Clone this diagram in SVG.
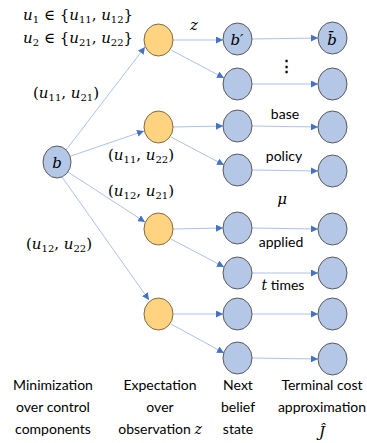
<svg xmlns="http://www.w3.org/2000/svg" width="367" height="443" viewBox="0 0 367 443">
<defs>
<marker id="ah" viewBox="0 0 10 10" refX="10" refY="5" markerWidth="7" markerHeight="7" markerUnits="userSpaceOnUse" orient="auto">
<path d="M0,0 L10,5 L0,10 z" fill="#4472C4"/>
</marker>
<style>
.blue{fill:#B4C7E7;stroke:#595959;stroke-width:1}
.orange{fill:#FFD37F;stroke:#7F6A3F;stroke-width:1}
.edge{stroke:#A3BBE3;stroke-width:0.9;fill:none;marker-end:url(#ah)}
.m{font-family:"DejaVu Serif","Liberation Serif",serif;font-style:italic;font-size:15px;fill:#000}
.mr{font-family:"DejaVu Serif","Liberation Serif",serif;font-size:15px;fill:#000}
.l{font-family:Lato,"Open Sans",sans-serif;font-size:14px;fill:#000;text-anchor:middle}
.s{font-size:10px}
</style>
</defs>
<g id="connectors">
<path class="edge" d="M66,150 L145,47"/>
<path class="edge" d="M71,156 L144,131"/>
<path class="edge" d="M68,172 L145,222"/>
<path class="edge" d="M62,177 L149,300"/>
<path class="edge" d="M173,40 L223,40"/>
<path class="edge" d="M171,50 L224,78"/>
<path class="edge" d="M173,127 L223,126"/>
<path class="edge" d="M171,137 L224,165"/>
<path class="edge" d="M173,229 L223,228"/>
<path class="edge" d="M171,239 L224,267"/>
<path class="edge" d="M173,314 L223,314"/>
<path class="edge" d="M171,324 L224,353"/>
<path class="edge" d="M252,39 L318,38"/>
<path class="edge" d="M252,84 L318,84"/>
<path class="edge" d="M252,126 L318,127"/>
<path class="edge" d="M252,170 L318,171"/>
<path class="edge" d="M252,228 L318,229"/>
<path class="edge" d="M252,273 L318,273"/>
<path class="edge" d="M252,314 L318,314"/>
<path class="edge" d="M252,358 L318,359"/>
</g>
<g id="b"><ellipse class="blue" cx="57" cy="162" rx="14" ry="16"/><text class="m" x="57" y="168" text-anchor="middle" font-size="17">b</text></g>
<g id="o1"><ellipse class="orange" cx="158.5" cy="40" rx="14.5" ry="16"/></g>
<g id="o2"><ellipse class="orange" cx="158.5" cy="127" rx="14.5" ry="16"/></g>
<g id="o3"><ellipse class="orange" cx="158.5" cy="229" rx="14.5" ry="16"/></g>
<g id="o4"><ellipse class="orange" cx="158.5" cy="314" rx="14.5" ry="16"/></g>
<g id="n1"><ellipse class="blue" cx="237.5" cy="39" rx="14.5" ry="16"/><text class="m" x="237" y="45" text-anchor="middle" font-size="17">b′</text></g>
<g id="n2"><ellipse class="blue" cx="237.5" cy="84" rx="14.5" ry="16"/></g>
<g id="n3"><ellipse class="blue" cx="237.5" cy="126" rx="14.5" ry="16"/></g>
<g id="n4"><ellipse class="blue" cx="237.5" cy="170" rx="14.5" ry="16"/></g>
<g id="n5"><ellipse class="blue" cx="237.5" cy="228" rx="14.5" ry="16"/></g>
<g id="n6"><ellipse class="blue" cx="237.5" cy="273" rx="14.5" ry="16"/></g>
<g id="n7"><ellipse class="blue" cx="237.5" cy="314" rx="14.5" ry="16"/></g>
<g id="n8"><ellipse class="blue" cx="237.5" cy="358" rx="14.5" ry="16"/></g>
<g id="t1"><ellipse class="blue" cx="332.5" cy="38" rx="14.5" ry="16"/><text class="m" x="332" y="45" text-anchor="middle" font-size="17">b̄</text></g>
<g id="t2"><ellipse class="blue" cx="332.5" cy="84" rx="14.5" ry="16"/></g>
<g id="t3"><ellipse class="blue" cx="332.5" cy="127" rx="14.5" ry="16"/></g>
<g id="t4"><ellipse class="blue" cx="332.5" cy="171" rx="14.5" ry="16"/></g>
<g id="t5"><ellipse class="blue" cx="332.5" cy="229" rx="14.5" ry="16"/></g>
<g id="t6"><ellipse class="blue" cx="332.5" cy="273" rx="14.5" ry="16"/></g>
<g id="t7"><ellipse class="blue" cx="332.5" cy="314" rx="14.5" ry="16"/></g>
<g id="t8"><ellipse class="blue" cx="332.5" cy="359" rx="14.5" ry="16"/></g>
<g id="labels">
<text class="m" x="23" y="20">u<tspan class="s" dy="3" font-style="normal">1</tspan><tspan dy="-3" font-style="normal"> ∈ {</tspan>u<tspan class="s" dy="3" font-style="normal">11</tspan><tspan dy="-3" font-style="normal">, </tspan>u<tspan class="s" dy="3" font-style="normal">12</tspan><tspan dy="-3" font-style="normal">}</tspan></text>
<text class="m" x="23" y="43">u<tspan class="s" dy="3" font-style="normal">2</tspan><tspan dy="-3" font-style="normal"> ∈ {</tspan>u<tspan class="s" dy="3" font-style="normal">21</tspan><tspan dy="-3" font-style="normal">, </tspan>u<tspan class="s" dy="3" font-style="normal">22</tspan><tspan dy="-3" font-style="normal">}</tspan></text>
<text class="m" x="33" y="98"><tspan font-style="normal">(</tspan>u<tspan class="s" dy="3" font-style="normal">11</tspan><tspan dy="-3" font-style="normal">, </tspan>u<tspan class="s" dy="3" font-style="normal">21</tspan><tspan dy="-3" font-style="normal">)</tspan></text>
<text class="m" x="108" y="160"><tspan font-style="normal">(</tspan>u<tspan class="s" dy="3" font-style="normal">11</tspan><tspan dy="-3" font-style="normal">, </tspan>u<tspan class="s" dy="3" font-style="normal">22</tspan><tspan dy="-3" font-style="normal">)</tspan></text>
<text class="m" x="108" y="196"><tspan font-style="normal">(</tspan>u<tspan class="s" dy="3" font-style="normal">12</tspan><tspan dy="-3" font-style="normal">, </tspan>u<tspan class="s" dy="3" font-style="normal">21</tspan><tspan dy="-3" font-style="normal">)</tspan></text>
<text class="m" x="26" y="249"><tspan font-style="normal">(</tspan>u<tspan class="s" dy="3" font-style="normal">12</tspan><tspan dy="-3" font-style="normal">, </tspan>u<tspan class="s" dy="3" font-style="normal">22</tspan><tspan dy="-3" font-style="normal">)</tspan></text>
<text class="m" x="194" y="30" text-anchor="middle" font-size="16">z</text>
<text class="mr" x="286" y="71" text-anchor="middle" font-weight="bold" font-size="18">⋮</text>
<text class="l" x="285" y="119">base</text>
<text class="l" x="284" y="161">policy</text>
<text class="m" x="282" y="204" text-anchor="middle" font-size="13">μ</text>
<text class="l" x="281" y="247">applied</text>
<text class="l" x="283" y="290"><tspan font-family="DejaVu Serif,serif" font-style="italic">t</tspan> times</text>
<text class="l" x="53" y="390">Minimization</text>
<text class="l" x="53" y="412">over control</text>
<text class="l" x="53" y="434">components</text>
<text class="l" x="160" y="390">Expectation</text>
<text class="l" x="160" y="412">over</text>
<text class="l" x="160" y="434">observation <tspan font-family="DejaVu Serif,serif" font-style="italic">z</tspan></text>
<text class="l" x="238" y="390">Next</text>
<text class="l" x="238" y="412">belief</text>
<text class="l" x="238" y="434">state</text>
<text class="l" x="322" y="390">Terminal cost</text>
<text class="l" x="322" y="412">approximation</text>
<text class="m" x="322" y="437" text-anchor="middle">Ĵ</text>
</g>
</svg>
